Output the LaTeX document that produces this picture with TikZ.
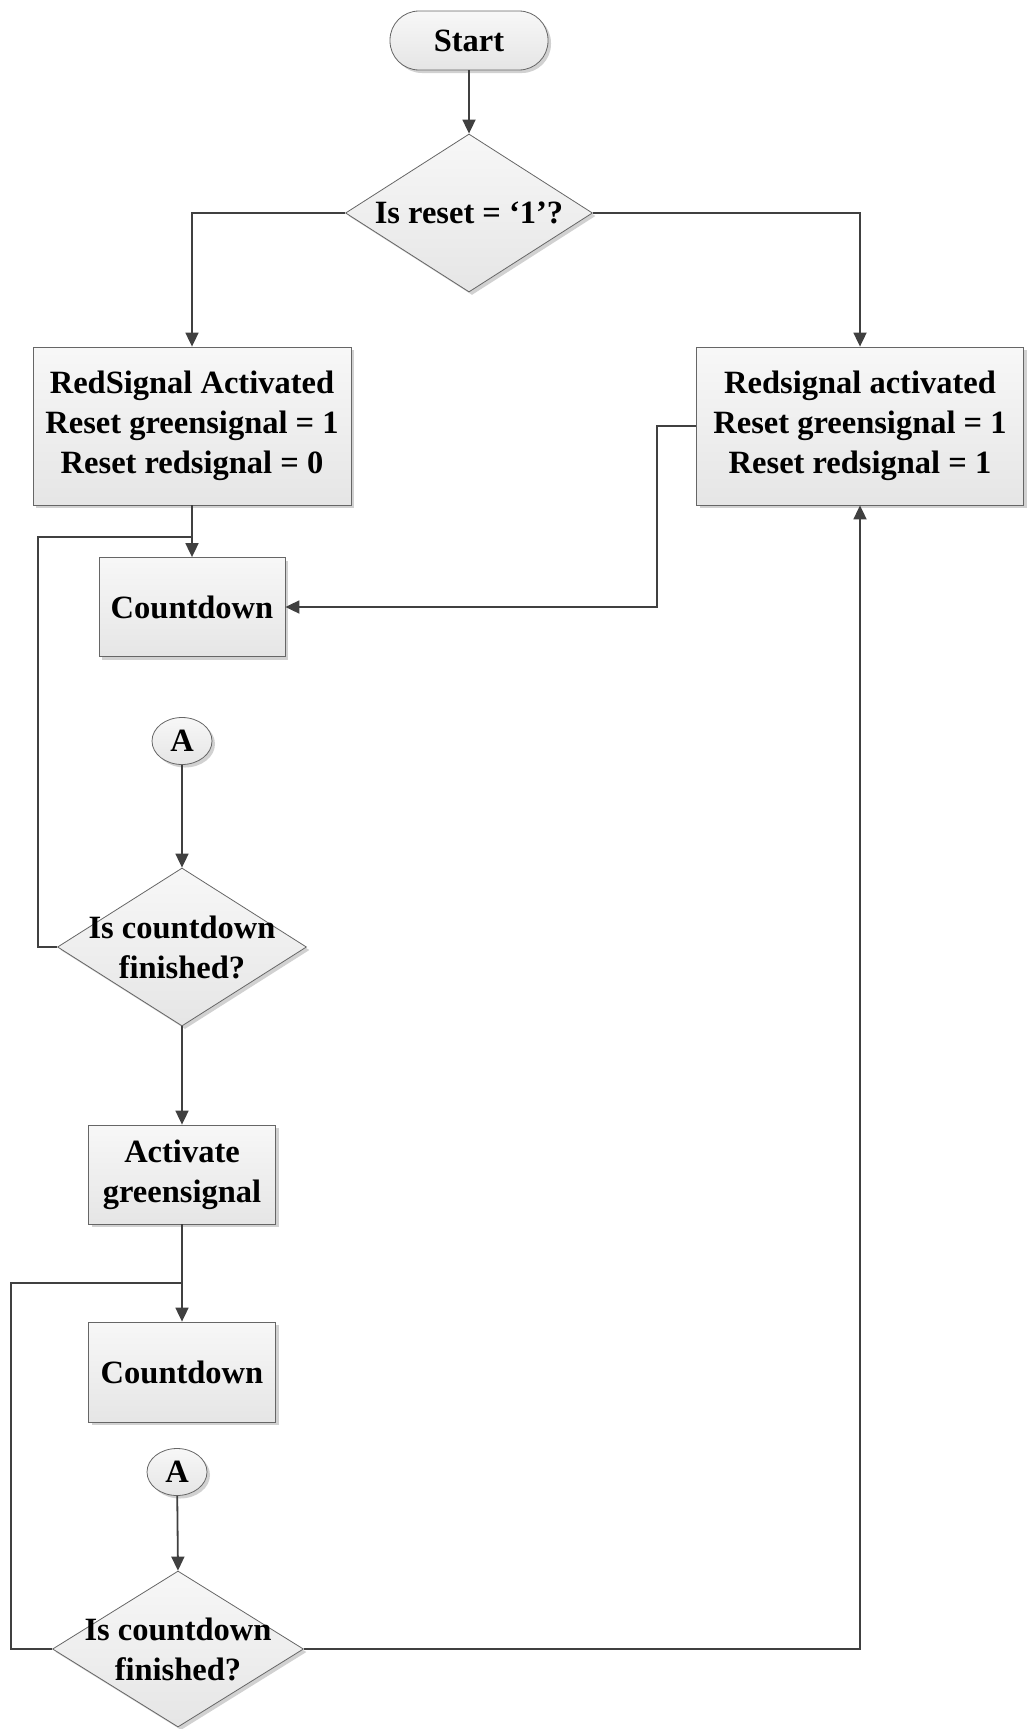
\documentclass[tikz,border=0pt]{standalone}
\usepackage{fontspec}
\setmainfont{Liberation Serif}
\usetikzlibrary{shapes.geometric,shadows,arrows.meta}

\begin{document}
\begin{tikzpicture}[x=1pt, y=-1pt, >={Triangle[length=14pt,width=13pt]},
		every node/.style={font=\bfseries\fontsize{32.5}{40}\selectfont, align=center, inner sep=0pt},
		shadebox/.style={draw=black!60, line width=0.8pt, top color=black!3, bottom color=black!10,
			drop shadow={shadow xshift=3pt, shadow yshift=-3pt, opacity=0.3, fill=black!60}},
		procbox/.style={shadebox, rectangle},
		termbox/.style={shadebox, rectangle, rounded corners=29pt},
		decision/.style={shadebox, diamond},
		refmark/.style={shadebox, ellipse, minimum width=60pt, minimum height=47pt},
		flow/.style={draw=black!75, line width=1.8pt}]
				\useasboundingbox (0,0) rectangle (1028,1729);
				
				% start and first test
				\node[termbox, minimum width=158pt, minimum height=59pt] (start) at (469,40.5) {Start};
				\node[decision, minimum width=247pt, minimum height=158pt,
					label={[name=resettxt]center:{Is reset = `1'?}}] (reset) at (469,213) {};
				
				% the two reset branches
				\node[procbox, minimum width=318pt, minimum height=158pt] (redL) at (192,426)
					{RedSignal Activated\\Reset greensignal = 1\\Reset redsignal = 0};
				\node[procbox, minimum width=327pt, minimum height=158pt] (redR) at (860,426)
					{Redsignal activated\\Reset greensignal = 1\\Reset redsignal = 1};
				
				% red phase
				\node[procbox, minimum width=186pt, minimum height=99pt] (cd1) at (192,607) {Countdown};
				\node[refmark] (refA1) at (182,741) {A};
				\node[decision, minimum width=249pt, minimum height=158pt,
					label={[name=chk1txt]center:{Is countdown\\finished?}}] (chk1) at (182,947) {};
				
				% green phase
				\node[procbox, minimum width=187pt, minimum height=99pt] (act) at (182,1174.5) {Activate\\greensignal};
				\node[procbox, minimum width=187pt, minimum height=100pt] (cd2) at (182,1372) {Countdown};
				\node[refmark] (refA2) at (177,1472) {A};
				\node[decision, minimum width=251pt, minimum height=156pt,
					label={[name=chk2txt]center:{Is countdown\\finished?}}] (chk2) at (178,1649) {};
				
				% bends of the return lines
				\coordinate (rturn) at (657,426);
				\coordinate (loop1) at (38,537);
				\coordinate (join1) at (192,537);
				\coordinate (loop2) at (11,1283);
				\coordinate (join2) at (182,1283);
				
				% connectors
				\draw[flow, ->] (start) -- (reset);
				\draw[flow, ->] (reset.west) -| (redL.north);
				\draw[flow, ->] (reset.east) -| (redR.north);
				\draw[flow, ->] (redL) -- (cd1);
				\draw[flow, ->] (redR.west) -- (rturn) |- (cd1.east);
				\draw[flow] (chk1.west) -| (loop1) -- (join1);
				\draw[flow, ->] (refA1) -- (chk1.north);
				\draw[flow, ->] (chk1) -- (act);
				\draw[flow, ->] (act) -- (cd2);
				\draw[flow] (chk2.west) -| (loop2) -- (join2);
				\draw[flow, ->] (refA2) -- (chk2.north);
				\draw[flow, ->] (chk2.east) -| (redR.south);
			\end{tikzpicture}
\end{document}
